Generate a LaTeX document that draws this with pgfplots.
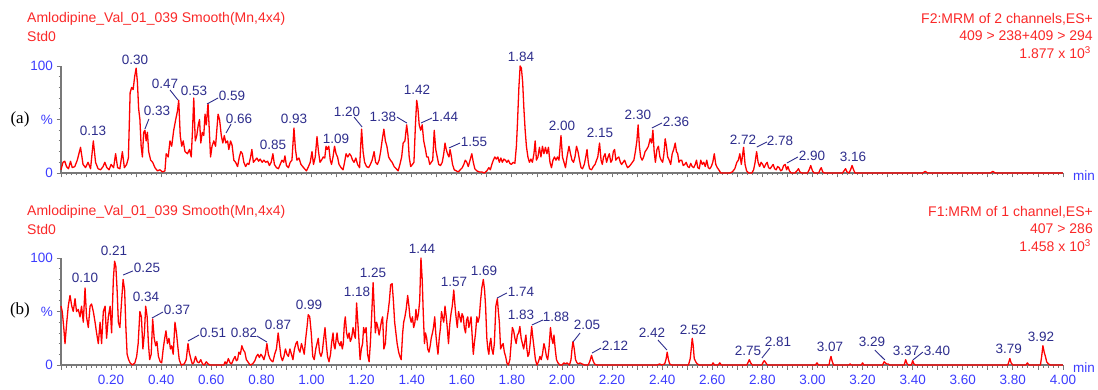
\documentclass[border=0pt]{standalone}
\usepackage{fontspec}
\setmainfont{Liberation Sans}
\newfontfamily\panelfont{Liberation Serif}
\usepackage{pgfplots}
\usepackage{pgfplotstable}
\pgfplotsset{compat=1.18}

\definecolor{trace}{RGB}{255,0,0}
\definecolor{hdr}{RGB}{250,40,40}
\definecolor{peak}{RGB}{45,45,140}
\definecolor{tickblue}{RGB}{60,60,255}
\definecolor{axisgray}{RGB}{120,120,120}

% F2: MRM of 2 channels (409 > 238 + 409 > 294), relative intensity (%)
\pgfplotstableread{
t p
0.000 3
0.008 10
0.015 11
0.022 6
0.030 4
0.038 11
0.045 5
0.055 6
0.065 12
0.078 24
0.088 8
0.098 5
0.108 10
0.118 4
0.129 30
0.138 10
0.148 4
0.158 3
0.168 6
0.175 10
0.183 5
0.192 3
0.200 8
0.210 5
0.218 18
0.226 5
0.235 4
0.245 20
0.253 5
0.262 8
0.269 14
0.272 40
0.276 75
0.282 80
0.288 78
0.294 90
0.300 98
0.305 85
0.310 60
0.315 50
0.320 25
0.325 15
0.330 38
0.335 40
0.340 30
0.345 38
0.350 20
0.358 12
0.366 10
0.375 5
0.385 2
0.395 3
0.405 1
0.415 2
0.420 18
0.428 15
0.435 30
0.442 25
0.450 40
0.458 50
0.465 58
0.470 68
0.476 35
0.482 25
0.488 30
0.495 20
0.505 18
0.513 22
0.520 15
0.525 40
0.530 70
0.536 30
0.542 35
0.548 45
0.553 50
0.558 28
0.564 38
0.570 35
0.575 55
0.580 45
0.587 65
0.592 40
0.597 15
0.603 25
0.610 30
0.617 25
0.622 40
0.627 55
0.633 50
0.640 35
0.646 28
0.652 35
0.658 28
0.665 30
0.670 22
0.677 30
0.683 26
0.690 12
0.697 10
0.705 6
0.712 15
0.718 20
0.724 18
0.730 10
0.737 6
0.744 9
0.750 8
0.757 15
0.762 22
0.768 10
0.775 12
0.782 14
0.789 11
0.795 13
0.803 10
0.810 12
0.817 10
0.825 11
0.832 7
0.839 10
0.846 18
0.852 8
0.860 5
0.868 4
0.875 8
0.882 12
0.889 10
0.894 16
0.900 7
0.908 5
0.915 10
0.922 12
0.930 42
0.936 22
0.942 12
0.950 14
0.958 8
0.965 6
0.972 4
0.980 2
0.988 6
0.995 10
1.002 20
1.008 8
1.015 15
1.022 34
1.028 20
1.034 10
1.040 12
1.047 15
1.053 14
1.058 25
1.063 22
1.069 25
1.075 12
1.080 8
1.086 15
1.092 25
1.098 18
1.104 15
1.110 8
1.118 5
1.126 3
1.132 10
1.138 18
1.145 15
1.152 18
1.158 16
1.164 12
1.170 10
1.177 14
1.184 8
1.192 5
1.200 41
1.206 20
1.212 10
1.220 6
1.228 5
1.235 8
1.242 12
1.250 20
1.256 10
1.263 8
1.270 12
1.276 20
1.283 32
1.289 41
1.295 30
1.301 25
1.308 15
1.315 12
1.322 10
1.330 6
1.338 4
1.346 2
1.353 8
1.360 15
1.366 28
1.373 30
1.380 45
1.385 35
1.390 15
1.396 6
1.403 8
1.409 10
1.415 45
1.420 68
1.425 60
1.430 45
1.436 40
1.442 45
1.448 30
1.455 22
1.460 15
1.466 15
1.472 8
1.478 10
1.484 12
1.490 40
1.496 22
1.502 15
1.508 8
1.515 7
1.522 10
1.528 18
1.533 28
1.538 22
1.543 18
1.549 15
1.553 22
1.558 16
1.563 8
1.570 3
1.578 2
1.586 1
1.594 3
1.602 5
1.608 8
1.614 12
1.620 10
1.626 6
1.633 12
1.640 18
1.646 10
1.652 4
1.660 2
1.670 1
1.680 1
1.690 0
1.700 2
1.708 5
1.714 3
1.720 8
1.726 12
1.732 15
1.738 13
1.744 15
1.750 10
1.756 14
1.762 10
1.768 13
1.774 12
1.780 10
1.786 12
1.792 9
1.798 8
1.805 10
1.812 9
1.818 25
1.822 45
1.828 80
1.833 100
1.838 98
1.843 85
1.848 60
1.853 40
1.858 25
1.864 15
1.870 10
1.876 13
1.882 10
1.888 18
1.893 30
1.898 12
1.904 15
1.910 24
1.916 15
1.922 25
1.928 18
1.934 24
1.940 18
1.946 24
1.952 10
1.958 5
1.964 12
1.970 15
1.976 12
1.982 15
1.988 12
1.996 35
2.002 15
2.008 10
2.014 5
2.020 15
2.028 25
2.034 18
2.040 12
2.046 10
2.052 15
2.058 25
2.064 20
2.070 12
2.076 5
2.082 4
2.089 8
2.095 15
2.100 22
2.105 10
2.110 4
2.118 3
2.125 6
2.132 8
2.138 12
2.143 15
2.150 28
2.156 12
2.161 8
2.166 15
2.172 18
2.178 10
2.184 15
2.189 18
2.195 10
2.200 12
2.205 20
2.210 22
2.215 12
2.221 14
2.227 15
2.233 10
2.238 8
2.244 10
2.250 12
2.256 8
2.262 5
2.268 6
2.275 8
2.281 10
2.287 12
2.293 20
2.299 30
2.304 45
2.309 25
2.314 15
2.320 12
2.326 15
2.332 20
2.338 22
2.345 25
2.352 32
2.358 28
2.363 40
2.368 20
2.373 10
2.379 22
2.385 25
2.391 15
2.396 12
2.402 10
2.407 18
2.412 32
2.417 25
2.422 15
2.428 12
2.434 8
2.440 18
2.446 22
2.452 28
2.457 20
2.462 18
2.467 10
2.472 12
2.478 12
2.484 7
2.490 8
2.496 10
2.502 6
2.508 5
2.514 9
2.520 6
2.526 5
2.532 8
2.537 12
2.542 5
2.548 4
2.554 12
2.560 8
2.566 10
2.572 6
2.578 12
2.584 5
2.590 4
2.596 6
2.602 10
2.608 18
2.614 8
2.620 5
2.626 3
2.634 0
2.650 0
2.670 0
2.680 1
2.690 4
2.698 10
2.704 12
2.710 18
2.716 8
2.720 15
2.725 24
2.731 8
2.737 2
2.745 0
2.758 0
2.765 3
2.771 10
2.777 20
2.783 10
2.789 6
2.795 10
2.801 8
2.807 5
2.813 8
2.819 10
2.825 5
2.831 4
2.837 6
2.843 8
2.849 4
2.855 3
2.861 6
2.867 5
2.873 2
2.879 3
2.885 7
2.891 8
2.897 3
2.902 6
2.908 2
2.915 0
2.930 0
2.938 2
2.944 4
2.950 1
2.957 0
2.980 0
2.987 3
2.993 7
3.000 2
3.007 0
3.025 0
3.030 3
3.035 5
3.041 1
3.048 0
3.120 0
3.126 2
3.132 4
3.138 1
3.146 0
3.152 3
3.158 7
3.164 3
3.170 0
3.440 0
3.450 1.5
3.460 0
3.710 0
3.720 1.5
3.730 0
4.000 0
}\traceA

% F1: MRM of 1 channel (407 > 286), relative intensity (%)
\pgfplotstableread{
t p
0.000 55
0.005 50
0.011 35
0.016 20
0.023 40
0.029 55
0.036 65
0.043 55
0.049 50
0.056 62
0.062 50
0.069 52
0.076 45
0.082 55
0.089 40
0.096 72
0.102 45
0.109 35
0.116 55
0.122 57
0.129 50
0.136 40
0.142 30
0.149 20
0.156 40
0.162 20
0.169 50
0.176 55
0.182 25
0.189 45
0.196 55
0.202 30
0.209 80
0.214 97
0.219 92
0.224 70
0.229 40
0.235 35
0.242 60
0.248 80
0.254 70
0.259 35
0.264 10
0.270 5
0.276 2
0.285 0
0.295 2
0.302 8
0.308 20
0.315 50
0.321 45
0.327 15
0.333 30
0.338 55
0.344 45
0.349 20
0.354 5
0.360 10
0.366 43
0.372 25
0.378 18
0.383 22
0.389 8
0.396 3
0.402 2
0.408 15
0.414 25
0.419 32
0.425 20
0.431 25
0.437 15
0.442 18
0.448 10
0.455 40
0.461 30
0.466 18
0.472 5
0.480 0
0.492 1
0.500 5
0.507 20
0.512 12
0.518 6
0.524 1
0.530 2
0.537 8
0.544 3
0.551 2
0.558 5
0.565 1
0.572 0
0.580 3
0.587 1
0.595 0
0.650 0
0.655 3
0.661 1
0.668 6
0.675 2
0.681 1
0.688 5
0.695 8
0.700 4
0.705 5
0.710 12
0.716 10
0.722 18
0.728 14
0.734 12
0.740 5
0.746 3
0.755 0
0.765 1
0.774 4
0.780 8
0.786 10
0.792 7
0.798 10
0.804 8
0.810 5
0.816 10
0.822 20
0.828 10
0.834 6
0.840 4
0.846 3
0.853 10
0.860 15
0.867 30
0.873 18
0.878 8
0.884 4
0.890 8
0.896 15
0.902 10
0.908 8
0.914 15
0.920 10
0.926 5
0.932 15
0.938 20
0.943 22
0.948 15
0.954 12
0.960 20
0.966 15
0.971 10
0.977 25
0.982 35
0.987 47
0.993 45
0.999 30
1.005 8
1.011 5
1.017 15
1.022 20
1.027 25
1.032 12
1.038 8
1.043 12
1.049 25
1.054 35
1.059 20
1.064 8
1.070 3
1.076 10
1.080 20
1.086 30
1.090 18
1.094 15
1.099 25
1.102 30
1.106 22
1.110 20
1.114 18
1.118 22
1.123 15
1.127 20
1.131 38
1.135 45
1.140 30
1.145 25
1.150 30
1.155 22
1.160 25
1.166 35
1.171 28
1.175 25
1.180 58
1.185 40
1.189 25
1.194 5
1.199 15
1.204 20
1.208 35
1.213 30
1.218 35
1.224 10
1.230 3
1.235 20
1.240 45
1.246 77
1.251 50
1.255 30
1.260 40
1.265 35
1.270 28
1.275 35
1.280 42
1.284 45
1.289 15
1.295 20
1.300 40
1.306 50
1.311 60
1.316 75
1.322 76
1.327 60
1.332 40
1.337 30
1.342 20
1.348 12
1.353 8
1.358 5
1.364 30
1.368 40
1.373 45
1.378 52
1.384 65
1.389 55
1.393 45
1.398 40
1.403 45
1.408 35
1.413 40
1.417 52
1.422 42
1.427 48
1.432 60
1.437 100
1.442 80
1.446 50
1.451 20
1.455 30
1.460 25
1.464 15
1.469 12
1.474 18
1.478 25
1.483 30
1.487 35
1.492 45
1.496 30
1.500 20
1.505 10
1.510 25
1.515 35
1.519 50
1.523 45
1.528 40
1.533 55
1.538 45
1.542 35
1.547 20
1.552 38
1.557 48
1.562 55
1.568 70
1.573 55
1.577 45
1.582 35
1.587 50
1.592 45
1.597 40
1.601 48
1.606 45
1.610 35
1.615 30
1.619 42
1.624 45
1.628 35
1.633 40
1.637 45
1.642 25
1.646 10
1.650 20
1.655 30
1.660 45
1.665 40
1.670 45
1.675 60
1.680 72
1.686 80
1.691 70
1.695 55
1.700 25
1.704 15
1.708 10
1.712 20
1.716 25
1.720 15
1.725 10
1.730 20
1.736 55
1.742 62
1.746 50
1.750 40
1.755 15
1.760 18
1.765 20
1.770 12
1.775 8
1.780 2
1.786 0
1.792 5
1.797 20
1.802 35
1.807 32
1.812 25
1.817 20
1.822 28
1.827 30
1.832 36
1.837 25
1.842 20
1.847 15
1.852 22
1.856 28
1.860 15
1.864 8
1.868 10
1.873 20
1.879 36
1.884 25
1.889 15
1.894 5
1.900 0
1.906 3
1.912 8
1.917 5
1.922 10
1.928 20
1.933 15
1.938 8
1.943 5
1.948 15
1.954 35
1.959 25
1.964 20
1.968 28
1.973 15
1.978 5
1.984 2
1.992 0
2.000 0
2.008 2
2.014 1
2.020 2
2.030 0
2.036 5
2.040 15
2.044 22
2.049 15
2.054 5
2.060 2
2.066 1
2.072 2
2.080 1
2.090 0
2.105 0
2.112 4
2.118 9
2.124 4
2.130 1
2.138 0
2.380 0
2.390 1
2.398 0
2.410 1
2.416 6
2.420 12
2.425 5
2.430 1
2.438 0
2.505 0
2.512 6
2.516 15
2.520 25
2.524 18
2.528 6
2.534 3
2.540 1
2.548 0
2.598 0
2.603 2
2.609 0
2.624 0
2.630 2
2.636 0
2.738 0
2.744 3
2.748 5
2.753 2
2.760 0
2.798 0
2.804 3
2.808 4
2.814 2
2.820 0
3.012 0
3.018 2
3.024 0
3.066 0
3.070 5
3.074 8
3.078 4
3.084 0
3.146 0
3.150 1
3.155 0
3.195 0
3.200 2
3.205 0
3.280 0
3.286 3
3.291 2
3.296 1
3.302 1
3.308 0
3.366 0
3.372 5
3.378 1
3.384 0
3.395 0
3.400 4
3.405 1
3.412 0
3.780 0
3.784 3
3.788 6
3.793 2
3.800 0
3.852 0
3.858 2
3.864 0
3.910 0
3.915 8
3.920 18
3.925 12
3.930 8
3.935 3
3.942 1
3.950 0
4.000 0
}\traceB

\newcommand{\lbl}{\fontsize{13.5}{15}\selectfont}

\pgfplotsset{
  chrom/.style={
    scale only axis, width=1002pt, height=107pt,
    xmin=0, xmax=4, ymin=0, ymax=100,
    axis x line*=bottom, axis y line*=left,
    axis line style={axisgray, line width=1.3pt, -},
    tick align=outside,
    major tick length=4.5pt, minor tick length=2.5pt,
    tick style={axisgray, line width=0.8pt},
    xtick={0,0.1,0.2,0.3,0.4,0.5,0.6,0.7,0.8,0.9,1.0,1.1,1.2,1.3,1.4,1.5,1.6,1.7,1.8,1.9,2.0,2.1,2.2,2.3,2.4,2.5,2.6,2.7,2.8,2.9,3.0,3.1,3.2,3.3,3.4,3.5,3.6,3.7,3.8,3.9,4.0},
    minor x tick num=4,
    ytick={0,50,100}, yticklabels={0,\%,100}, minor y tick num=4,
    ticklabel style={font=\lbl, text=tickblue},
    xticklabel style={yshift=-2pt},
    clip=false, anchor=south west,
  },
  trc/.style={trace, line width=1.3pt, line join=round, mark=none},
}
\tikzset{
  plab/.style={font=\lbl, text=peak, inner sep=0pt},
  lead/.style={peak, line width=0.9pt},
}

\begin{document}
\begin{tikzpicture}
\path[use as bounding box] (0pt,0pt) rectangle (1098pt,-390pt);

% ---------------- upper trace (a) ----------------
\begin{axis}[chrom, at={(61pt,-173pt)}, xticklabels={}]
\addplot[trc] table[x=t, y=p] {\traceA};
\node[plab] at (axis cs:0.128,39.3) {0.13};
\node[plab] at (axis cs:0.295,105.6) {0.30};
\node[plab] at (axis cs:0.383,57.9) {0.33};
\node[plab] at (axis cs:0.415,83.2) {0.47};
\node[plab] at (axis cs:0.531,76.6) {0.53};
\node[plab] at (axis cs:0.683,72.0) {0.59};
\node[plab] at (axis cs:0.711,50.5) {0.66};
\node[plab] at (axis cs:0.846,26.2) {0.85};
\node[plab] at (axis cs:0.930,50.5) {0.93};
\node[plab] at (axis cs:1.098,31.8) {1.09};
\node[plab] at (axis cs:1.142,57.0) {1.20};
\node[plab] at (axis cs:1.285,52.3) {1.38};
\node[plab] at (axis cs:1.421,77.6) {1.42};
\node[plab] at (axis cs:1.533,52.3) {1.44};
\node[plab] at (axis cs:1.649,29.0) {1.55};
\node[plab] at (axis cs:1.836,108.4) {1.84};
\node[plab] at (axis cs:2.000,43.9) {2.00};
\node[plab] at (axis cs:2.152,37.4) {2.15};
\node[plab] at (axis cs:2.303,54.2) {2.30};
\node[plab] at (axis cs:2.455,47.7) {2.36};
\node[plab] at (axis cs:2.723,30.8) {2.72};
\node[plab] at (axis cs:2.870,29.9) {2.78};
\node[plab] at (axis cs:2.998,15.9) {2.90};
\node[plab] at (axis cs:3.162,15.0) {3.16};
\draw[lead] (axis cs:0.335,41.1) -- (axis cs:0.351,50.5);
\draw[lead] (axis cs:0.435,77.6) -- (axis cs:0.467,68.2);
\draw[lead] (axis cs:0.583,64.5) -- (axis cs:0.627,70.1);
\draw[lead] (axis cs:0.659,37.4) -- (axis cs:0.679,45.8);
\draw[lead] (axis cs:1.170,52.3) -- (axis cs:1.202,43.0);
\draw[lead] (axis cs:1.341,52.3) -- (axis cs:1.381,46.7);
\draw[lead] (axis cs:1.437,46.7) -- (axis cs:1.481,51.4);
\draw[lead] (axis cs:1.549,23.4) -- (axis cs:1.593,28.0);
\draw[lead] (axis cs:2.359,42.1) -- (axis cs:2.399,46.7);
\draw[lead] (axis cs:2.778,24.3) -- (axis cs:2.818,29.0);
\draw[lead] (axis cs:2.898,9.3) -- (axis cs:2.942,15.0);
\end{axis}

% ---------------- lower trace (b) ----------------
\begin{axis}[chrom, at={(61pt,-365pt)},
  xticklabels={,,0.20,,0.40,,0.60,,0.80,,1.00,,1.20,,1.40,,1.60,,1.80,,2.00,,2.20,,2.40,,2.60,,2.80,,3.00,,3.20,,3.40,,3.60,,3.80,,4.00}]
\addplot[trc] table[x=t, y=p] {\traceB};
\node[plab] at (axis cs:0.096,81.3) {0.10};
\node[plab] at (axis cs:0.212,106.5) {0.21};
\node[plab] at (axis cs:0.343,90.7) {0.25};
\node[plab] at (axis cs:0.339,63.6) {0.34};
\node[plab] at (axis cs:0.463,51.4) {0.37};
\node[plab] at (axis cs:0.607,29.9) {0.51};
\node[plab] at (axis cs:0.731,29.9) {0.82};
\node[plab] at (axis cs:0.866,37.4) {0.87};
\node[plab] at (axis cs:0.990,56.1) {0.99};
\node[plab] at (axis cs:1.182,68.2) {1.18};
\node[plab] at (axis cs:1.246,86.0) {1.25};
\node[plab] at (axis cs:1.441,108.4) {1.44};
\node[plab] at (axis cs:1.569,77.6) {1.57};
\node[plab] at (axis cs:1.689,87.9) {1.69};
\node[plab] at (axis cs:1.836,68.2) {1.74};
\node[plab] at (axis cs:1.836,46.7) {1.83};
\node[plab] at (axis cs:1.976,44.9) {1.88};
\node[plab] at (axis cs:2.100,37.4) {2.05};
\node[plab] at (axis cs:2.212,17.8) {2.12};
\node[plab] at (axis cs:2.359,29.9) {2.42};
\node[plab] at (axis cs:2.523,32.7) {2.52};
\node[plab] at (axis cs:2.743,13.1) {2.75};
\node[plab] at (axis cs:2.862,21.5) {2.81};
\node[plab] at (axis cs:3.070,16.8) {3.07};
\node[plab] at (axis cs:3.238,21.5) {3.29};
\node[plab] at (axis cs:3.373,13.1) {3.37};
\node[plab] at (axis cs:3.497,13.1) {3.40};
\node[plab] at (axis cs:3.784,15.0) {3.79};
\node[plab] at (axis cs:3.912,26.2) {3.92};
\draw[lead] (axis cs:0.248,84.1) -- (axis cs:0.287,87.9);
\draw[lead] (axis cs:0.363,43.9) -- (axis cs:0.407,49.5);
\draw[lead] (axis cs:0.507,22.4) -- (axis cs:0.551,28.0);
\draw[lead] (axis cs:0.782,27.1) -- (axis cs:0.822,21.5);
\draw[lead] (axis cs:1.741,62.6) -- (axis cs:1.780,67.3);
\draw[lead] (axis cs:1.880,37.4) -- (axis cs:1.924,42.1);
\draw[lead] (axis cs:2.044,21.5) -- (axis cs:2.072,29.9);
\draw[lead] (axis cs:2.120,11.2) -- (axis cs:2.156,15.9);
\draw[lead] (axis cs:2.383,23.4) -- (axis cs:2.419,14.0);
\draw[lead] (axis cs:2.798,6.5) -- (axis cs:2.830,15.9);
\draw[lead] (axis cs:3.249,14.0) -- (axis cs:3.289,4.7);
\draw[lead] (axis cs:3.401,4.7) -- (axis cs:3.441,12.1);
\end{axis}

% ---------------- headers and side labels ----------------
\begin{scope}[every node/.style={font=\fontsize{14}{16}\selectfont, text=hdr, inner sep=0pt}]
\node[anchor=west] at (27pt,-19pt) {Amlodipine\_Val\_01\_039 Smooth(Mn,4x4)};
\node[anchor=west] at (27pt,-36pt) {Std0};
\node[anchor=east] at (1093pt,-19pt) {F2:MRM of 2 channels,ES+};
\node[anchor=east] at (1093pt,-36pt) {409 > 238+409 > 294};
\node[anchor=east] at (1091pt,-53pt) {1.877 x 10\textsuperscript{3}};
\node[anchor=west] at (27pt,-212pt) {Amlodipine\_Val\_01\_039 Smooth(Mn,4x4)};
\node[anchor=west] at (27pt,-229pt) {Std0};
\node[anchor=east] at (1093pt,-212pt) {F1:MRM of 1 channel,ES+};
\node[anchor=east] at (1093pt,-229pt) {407 > 286};
\node[anchor=east] at (1091pt,-246pt) {1.458 x 10\textsuperscript{3}};
\end{scope}
\node[font=\panelfont\fontsize{17}{19}\selectfont, inner sep=0pt] at (20pt,-119pt) {(a)};
\node[font=\panelfont\fontsize{17}{19}\selectfont, inner sep=0pt] at (20pt,-310pt) {(b)};
\node[font=\lbl, text=tickblue, inner sep=0pt] at (1084pt,-176pt) {min};
\node[font=\lbl, text=tickblue, inner sep=0pt] at (1084pt,-368pt) {min};
\end{tikzpicture}
\end{document}
